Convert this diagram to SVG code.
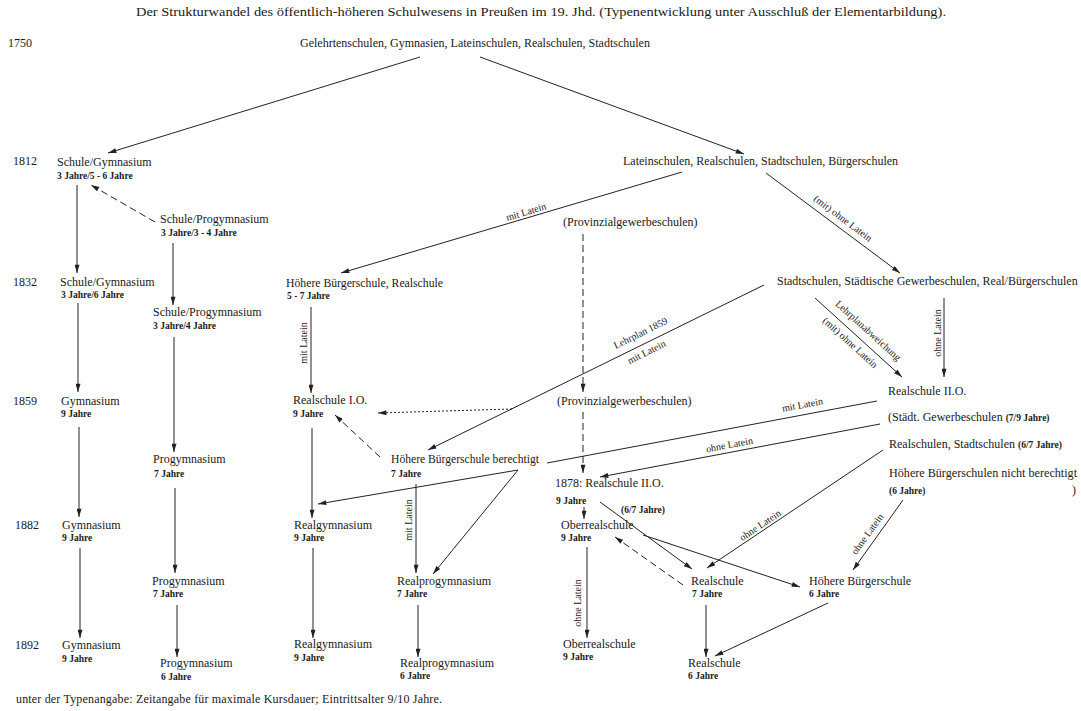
<svg xmlns="http://www.w3.org/2000/svg" width="1081" height="711" viewBox="0 0 1081 711">
<style>
  text { font-family: "Liberation Serif", "Times New Roman", serif; fill: #1a1a1a; }
  .n { font-size: 12px; }
  .y { font-size: 12px; }
  .s { font-size: 9.5px; font-weight: bold; }
  .l { font-size: 10px; }
  .t { font-size: 13px; }
  .c line, .c path { stroke: #222; stroke-width: 1; fill: none; }
  .c .d { stroke-dasharray: 7 4; }
  .c .dt { stroke-dasharray: 2 2; }
</style>
<defs>
  <marker id="ah" viewBox="0 0 10 6" refX="10" refY="3" markerWidth="9" markerHeight="5" orient="auto" markerUnits="userSpaceOnUse">
    <path d="M0,0 L10,3 L0,6 z" fill="#222"/>
  </marker>
</defs>
<rect width="1081" height="711" fill="#ffffff"/>

<text class="t" x="541" y="16" text-anchor="middle" textLength="810" lengthAdjust="spacingAndGlyphs">Der Strukturwandel des öffentlich-höheren Schulwesens in Preußen im 19. Jhd. (Typenentwicklung unter Ausschluß der Elementarbildung).</text>

<g id="years">
  <text class="y" x="8" y="47">1750</text>
  <text class="y" x="13" y="165">1812</text>
  <text class="y" x="13" y="286">1832</text>
  <text class="y" x="13" y="405">1859</text>
  <text class="y" x="15" y="529">1882</text>
  <text class="y" x="15" y="649">1892</text>
</g>

<g class="c" id="connectors">
  <line x1="420" y1="57" x2="108" y2="153" marker-end="url(#ah)"/>
  <line x1="480" y1="57" x2="744" y2="154" marker-end="url(#ah)"/>
  <line x1="77" y1="185" x2="77" y2="273" marker-end="url(#ah)"/>
  <line class="d" x1="155" y1="222" x2="91" y2="185" marker-end="url(#ah)"/>
  <line x1="173" y1="243" x2="173" y2="305" marker-end="url(#ah)"/>
  <line x1="682" y1="172" x2="341" y2="273" marker-end="url(#ah)"/>
  <line x1="766" y1="173" x2="900" y2="273" marker-end="url(#ah)"/>
  <line class="d" x1="583" y1="234" x2="583" y2="392" marker-end="url(#ah)"/>
  <line class="d" x1="583" y1="412" x2="583" y2="473" marker-end="url(#ah)"/>
  <line x1="78" y1="303" x2="78" y2="392" marker-end="url(#ah)"/>
  <line x1="174" y1="337" x2="174" y2="452" marker-end="url(#ah)"/>
  <line x1="311" y1="307" x2="311" y2="393" marker-end="url(#ah)"/>
  <line x1="764" y1="285" x2="428" y2="450" marker-end="url(#ah)"/>
  <line class="dt" x1="512" y1="409" x2="378" y2="413" marker-end="url(#ah)"/>
  <line x1="815" y1="298" x2="902" y2="377" marker-end="url(#ah)"/>
  <line x1="944" y1="298" x2="944" y2="377" marker-end="url(#ah)"/>
  <line x1="79" y1="427" x2="79" y2="517" marker-end="url(#ah)"/>
  <line x1="312" y1="428" x2="312" y2="518" marker-end="url(#ah)"/>
  <line class="d" x1="380" y1="457" x2="335" y2="415" marker-end="url(#ah)"/>
  <line x1="175" y1="488" x2="175" y2="573" marker-end="url(#ah)"/>
  <line x1="877" y1="401" x2="547" y2="463"/>
  <line x1="518" y1="470" x2="318" y2="504" marker-end="url(#ah)"/>
  <line x1="518" y1="470" x2="433" y2="574" marker-end="url(#ah)"/>
  <line x1="880" y1="424" x2="600" y2="477" marker-end="url(#ah)"/>
  <line x1="416" y1="484" x2="416" y2="573" marker-end="url(#ah)"/>
  <line x1="584" y1="507" x2="584" y2="519" marker-end="url(#ah)"/>
  <line x1="600" y1="502" x2="692" y2="569" marker-end="url(#ah)"/>
  <line x1="643" y1="535" x2="800" y2="587" marker-end="url(#ah)"/>
  <line class="d" x1="683" y1="585" x2="615" y2="537" marker-end="url(#ah)"/>
  <line x1="883" y1="450" x2="707" y2="568" marker-end="url(#ah)"/>
  <line x1="903" y1="500" x2="853" y2="570" marker-end="url(#ah)"/>
  <line x1="587" y1="547" x2="587" y2="638" marker-end="url(#ah)"/>
  <line x1="706" y1="605" x2="706" y2="657" marker-end="url(#ah)"/>
  <line x1="828" y1="603" x2="715" y2="656" marker-end="url(#ah)"/>
  <line x1="80" y1="548" x2="80" y2="638" marker-end="url(#ah)"/>
  <line x1="177" y1="605" x2="177" y2="657" marker-end="url(#ah)"/>
  <line x1="313" y1="548" x2="313" y2="638" marker-end="url(#ah)"/>
  <line x1="418" y1="605" x2="418" y2="657" marker-end="url(#ah)"/>

  <g id="edge-labels">
    <text class="l" x="527" y="215" text-anchor="middle" transform="rotate(-16.5 527 215)">mit Latein</text>
    <text class="l" x="841" y="221" text-anchor="middle" transform="rotate(36.7 841 221)">(mit) ohne Latein</text>
    <text class="l" text-anchor="middle" transform="translate(307 343) rotate(-90)">mit Latein</text>
    <text class="l" x="642" y="336" text-anchor="middle" transform="rotate(-26.2 642 336)">Lehrplan 1859</text>
    <text class="l" x="648" y="355" text-anchor="middle" transform="rotate(-26.2 648 355)">mit Latein</text>
    <text class="l" x="866" y="333" text-anchor="middle" transform="rotate(42.2 866 333)">Lehrplanabweichung</text>
    <text class="l" x="848" y="345" text-anchor="middle" transform="rotate(42.2 848 345)">(mit) ohne Latein</text>
    <text class="l" text-anchor="middle" transform="translate(941 333) rotate(-90)">ohne Latein</text>
    <text class="l" x="803" y="408" text-anchor="middle" transform="rotate(-10.6 803 408)">mit Latein</text>
    <text class="l" x="730" y="448" text-anchor="middle" transform="rotate(-10.7 730 448)">ohne Latein</text>
    <text class="l" text-anchor="middle" transform="translate(412 520) rotate(-90)">mit Latein</text>
    <text class="l" x="762" y="528" text-anchor="middle" transform="rotate(-33.8 762 528)">ohne Latein</text>
    <text class="l" x="870" y="536" text-anchor="middle" transform="rotate(-54.5 870 536)">ohne Latein</text>
    <text class="l" text-anchor="middle" transform="translate(581 603) rotate(-90)">ohne Latein</text>
    <text class="s" x="621" y="513">(6/7 Jahre)</text>
  </g>
</g>

<g id="n1750"><text class="n" x="300" y="47">Gelehrtenschulen, Gymnasien, Lateinschulen, Realschulen, Stadtschulen</text></g>

<g id="n1812-gym"><text class="n" x="57" y="166">Schule/Gymnasium</text><text class="s" x="57" y="179">3 Jahre/5 - 6 Jahre</text></g>
<g id="n1812-latein"><text class="n" x="623" y="165">Lateinschulen, Realschulen, Stadtschulen, Bürgerschulen</text></g>
<g id="n1812-prog"><text class="n" x="160" y="223">Schule/Progymnasium</text><text class="s" x="161" y="236">3 Jahre/3 - 4 Jahre</text></g>
<g id="n-prov1"><text class="n" x="563" y="226">(Provinzialgewerbeschulen)</text></g>

<g id="n1832-gym"><text class="n" x="60" y="286">Schule/Gymnasium</text><text class="s" x="61" y="298">3 Jahre/6 Jahre</text></g>
<g id="n1832-prog"><text class="n" x="153" y="316">Schule/Progymnasium</text><text class="s" x="153" y="329">3 Jahre/4 Jahre</text></g>
<g id="n1832-hbs"><text class="n" x="286" y="287" textLength="157" lengthAdjust="spacingAndGlyphs">Höhere Bürgerschule, Realschule</text><text class="s" x="287" y="299">5 - 7 Jahre</text></g>
<g id="n1832-stadt"><text class="n" x="777" y="285">Stadtschulen, Städtische Gewerbeschulen, Real/Bürgerschulen</text></g>

<g id="n1859-gym"><text class="n" x="61" y="405">Gymnasium</text><text class="s" x="61" y="417">9 Jahre</text></g>
<g id="n1859-rs1"><text class="n" x="293" y="404">Realschule I.O.</text><text class="s" x="293" y="417">9 Jahre</text></g>
<g id="n-prov2"><text class="n" x="557" y="405">(Provinzialgewerbeschulen)</text></g>
<g id="n1859-rs2"><text class="n" x="888" y="395">Realschule II.O.</text></g>
<g id="n1859-gew"><text class="n" x="888" y="421">(Städt. Gewerbeschulen <tspan class="s">(7/9 Jahre)</tspan></text></g>
<g id="n1859-rsst"><text class="n" x="889" y="448">Realschulen, Stadtschulen <tspan class="s">(6/7 Jahre)</tspan></text></g>
<g id="n1859-hbsn"><text class="n" x="889" y="477" textLength="188" lengthAdjust="spacingAndGlyphs">Höhere Bürgerschulen nicht berechtigt</text><text class="s" x="889" y="494">(6 Jahre)</text><text class="n" x="1072" y="494">)</text></g>
<g id="n1859-prog"><text class="n" x="153" y="463">Progymnasium</text><text class="s" x="154" y="477">7 Jahre</text></g>
<g id="n1859-hbsb"><text class="n" x="391" y="463" textLength="148" lengthAdjust="spacingAndGlyphs">Höhere Bürgerschule berechtigt</text><text class="s" x="391" y="477">7 Jahre</text></g>
<g id="n1878-rs2"><text class="n" x="555" y="487">1878: Realschule II.O.</text><text class="s" x="556" y="504">9 Jahre</text></g>

<g id="n1882-gym"><text class="n" x="62" y="529">Gymnasium</text><text class="s" x="62" y="541">9 Jahre</text></g>
<g id="n1882-rgym"><text class="n" x="294" y="529">Realgymnasium</text><text class="s" x="294" y="541">9 Jahre</text></g>
<g id="n1882-ors"><text class="n" x="561" y="529">Oberrealschule</text><text class="s" x="561" y="541">9 Jahre</text></g>
<g id="n1882-prog"><text class="n" x="152" y="585">Progymnasium</text><text class="s" x="153" y="597">7 Jahre</text></g>
<g id="n1882-rprog"><text class="n" x="397" y="585">Realprogymnasium</text><text class="s" x="397" y="597">7 Jahre</text></g>
<g id="n1882-rs"><text class="n" x="691" y="585">Realschule</text><text class="s" x="692" y="597">7 Jahre</text></g>
<g id="n1882-hbs"><text class="n" x="809" y="585">Höhere Bürgerschule</text><text class="s" x="809" y="597">6 Jahre</text></g>

<g id="n1892-gym"><text class="n" x="62" y="649">Gymnasium</text><text class="s" x="62" y="662">9 Jahre</text></g>
<g id="n1892-prog"><text class="n" x="160" y="667">Progymnasium</text><text class="s" x="161" y="680">6 Jahre</text></g>
<g id="n1892-rgym"><text class="n" x="294" y="648">Realgymnasium</text><text class="s" x="294" y="661">9 Jahre</text></g>
<g id="n1892-rprog"><text class="n" x="400" y="667">Realprogymnasium</text><text class="s" x="400" y="679">6 Jahre</text></g>
<g id="n1892-ors"><text class="n" x="563" y="648">Oberrealschule</text><text class="s" x="563" y="660">9 Jahre</text></g>
<g id="n1892-rs"><text class="n" x="688" y="667">Realschule</text><text class="s" x="688" y="679">6 Jahre</text></g>

<text class="n" x="16" y="703" textLength="426" lengthAdjust="spacing">unter der Typenangabe:  Zeitangabe für maximale Kursdauer; Eintrittsalter 9/10 Jahre.</text>
</svg>
